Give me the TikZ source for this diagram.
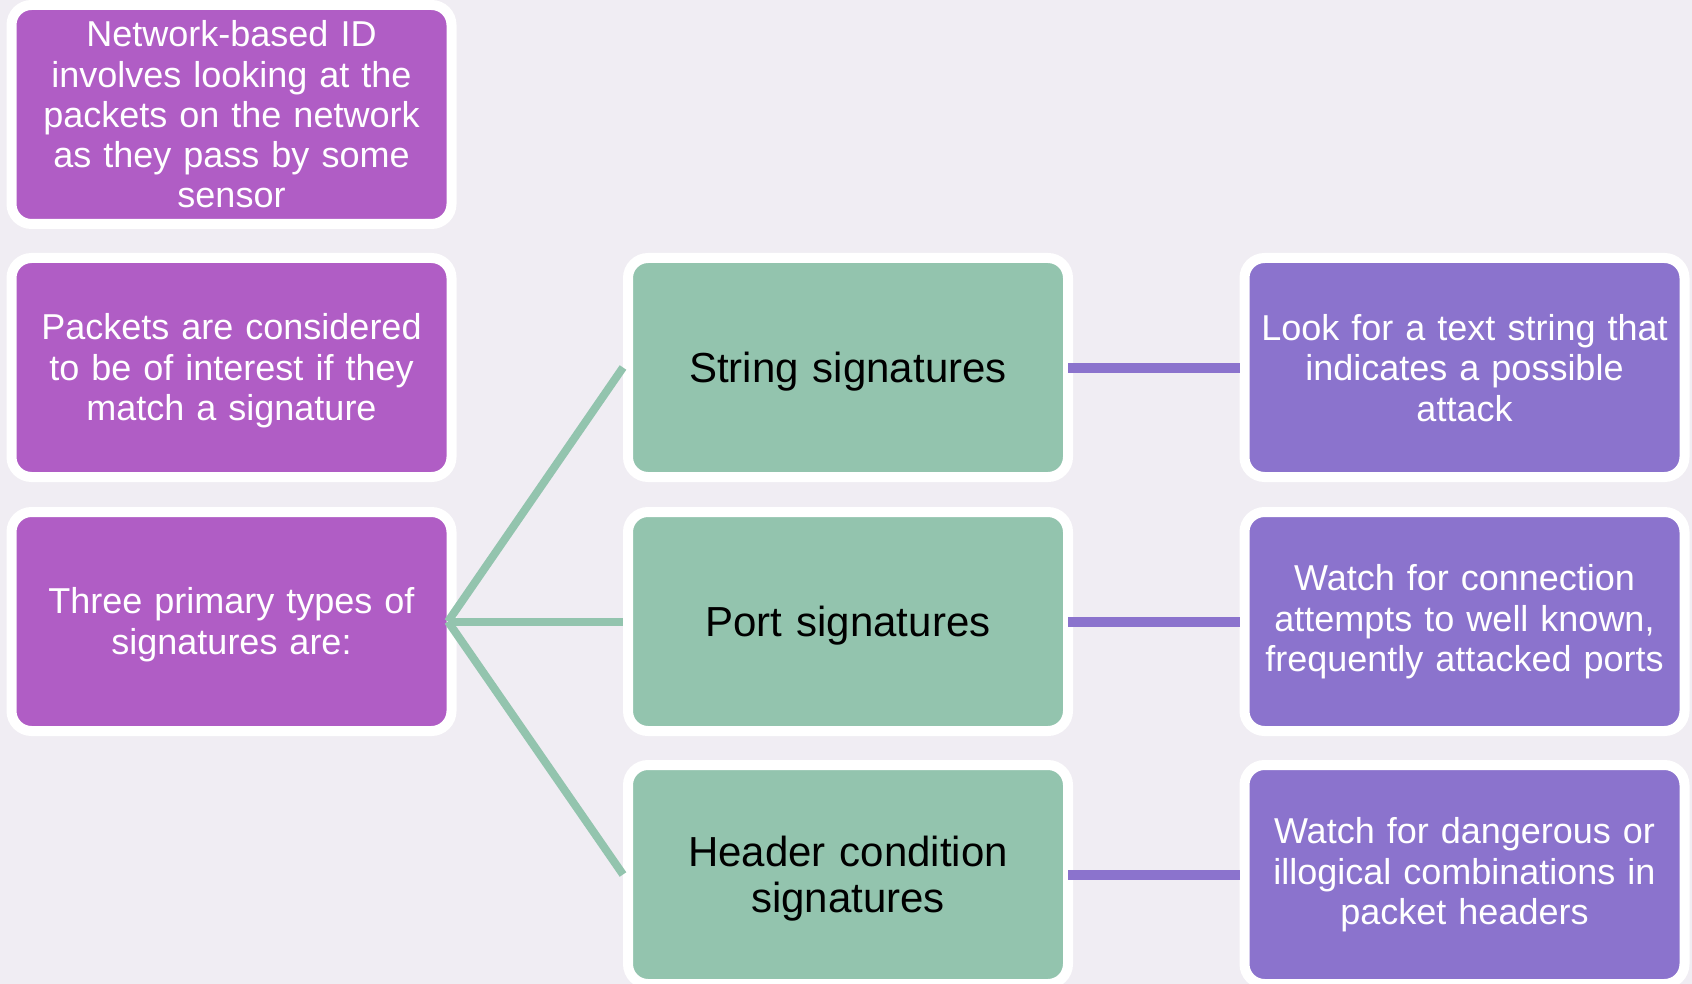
\documentclass[tikz,border=0pt]{standalone}
\usepackage{fontspec}
\setmainfont{Liberation Sans}
\definecolor{bgc}{HTML}{F0EDF3}
\definecolor{lpurple}{HTML}{B05DC5}
\definecolor{mgreen}{HTML}{93C4AE}
\definecolor{rpurple}{HTML}{8B73CD}
\begin{document}
\begin{tikzpicture}[x=1pt,y=-1pt,
  box/.style={rounded corners=20pt, draw=white, line width=10pt,
    minimum width=440pt, minimum height=219pt, inner sep=0pt,
    align=center, text width=430pt},
  leftbase/.style={box, fill=lpurple, text=white, font=\fontsize{36}{40.3}\selectfont},
  leftbox/.style={leftbase, execute at begin node={\rule{0pt}{32.7pt}}},
  midbox/.style={box, fill=mgreen, text=black, font=\fontsize{42}{46}\selectfont,
    execute at begin node={\rule{0pt}{39.5pt}}},
  rightbox/.style={box, fill=rpurple, text=white, font=\fontsize{36}{40.5}\selectfont,
    execute at begin node={\rule{0pt}{27pt}}},
  gline/.style={draw=mgreen, line width=8pt},
  pline/.style={draw=rpurple, line width=10pt}]
\fill[bgc] (0,0) rectangle (1692,984);
\useasboundingbox (0,0) rectangle (1692,984);

\node[leftbase] (l1) at (231.5,114.5) {Network-based ID\\involves looking at the\\packets on the network\\as they pass by some\\sensor};
\node[leftbox] (l2) at (231.5,367.5) {Packets are considered\\to be of interest if they\\match a signature};
\node[leftbox] (l3) at (231.5,621.5) {Three primary types of\\signatures are:};

\node[midbox] (m1) at (848,367.5) {String signatures};
\node[midbox] (m2) at (848,621.5) {Port signatures};
\node[midbox] (m3) at (848,874.5) {Header condition\\signatures};

\node[rightbox] (r1) at (1464.5,367.5) {Look for a text string that\\indicates a possible\\attack};
\node[rightbox] (r2) at (1464.5,621.5) {Watch for connection\\attempts to well known,\\frequently attacked ports};
\node[rightbox] (r3) at (1464.5,874.5) {Watch for dangerous or\\illogical combinations in\\packet headers};

\coordinate (hub) at (448,621.5);
\draw[gline] (hub) -- (m1.west);
\draw[gline] (hub) -- (m2.west);
\draw[gline] (hub) -- (m3.west);

\draw[pline] ([xshift=-5pt]m1.east) -- (r1.west);
\draw[pline] ([xshift=-5pt]m2.east) -- (r2.west);
\draw[pline] ([xshift=-5pt]m3.east) -- (r3.west);
\end{tikzpicture}
\end{document}
